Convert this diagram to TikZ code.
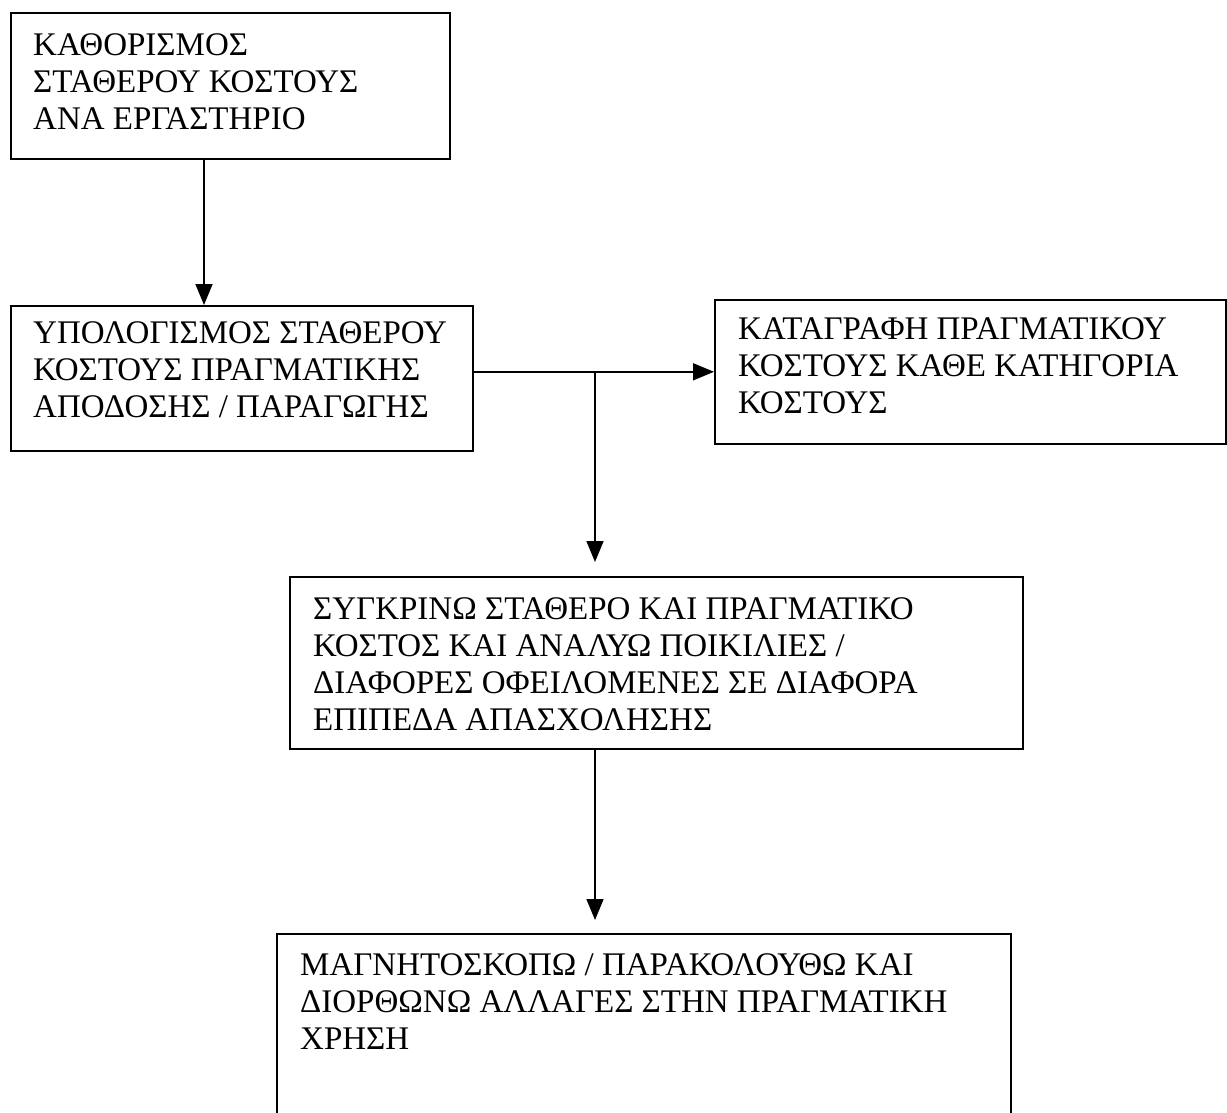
\documentclass[tikz,border=0pt]{standalone}
\usepackage{fontspec}
\setmainfont{Liberation Serif}
\usetikzlibrary{arrows.meta}
\tikzset{
  x=1pt, y=-1pt,
  boxframe/.style={draw=black, line width=1.6pt, rectangle, anchor=north west, inner sep=0pt},
  boxtext/.style={anchor=north west, align=left, inner sep=0pt, font=\fontsize{33}{37}\selectfont},
  arr/.style={line width=1.6pt, -{Triangle[length=21pt,width=17pt]}},
  link/.style={line width=1.6pt}
}
\begin{document}
\begin{tikzpicture}
\useasboundingbox[fill=white] (0,0) rectangle (1227,1112);
\begin{scope}
\clip (0,0) rectangle (1227,1112);
\node[boxframe, minimum width=439pt, minimum height=146pt] (b1) at (10,12) {};
\node[boxframe, minimum width=462pt, minimum height=145pt] (b2) at (10,305) {};
\node[boxframe, minimum width=511pt, minimum height=144pt] (b3) at (714,299) {};
\node[boxframe, minimum width=733pt, minimum height=172pt] (b4) at (289,576) {};
\node[boxframe, minimum width=734pt, minimum height=220pt] (b5) at (276,933) {};

\node[boxtext] (t1) at (33,33) {ΚΑΘΟΡΙΣΜΟΣ\\ΣΤΑΘΕΡΟΥ ΚΟΣΤΟΥΣ\\ΑΝΑ ΕΡΓΑΣΤΗΡΙΟ};
\node[boxtext] (t2) at (33,321) {ΥΠΟΛΟΓΙΣΜΟΣ ΣΤΑΘΕΡΟΥ\\ΚΟΣΤΟΥΣ ΠΡΑΓΜΑΤΙΚΗΣ\\ΑΠΟΔΟΣΗΣ / ΠΑΡΑΓΩΓΗΣ};
\node[boxtext] (t3) at (738,317) {ΚΑΤΑΓΡΑΦΗ ΠΡΑΓΜΑΤΙΚΟΥ\\ΚΟΣΤΟΥΣ ΚΑΘΕ ΚΑΤΗΓΟΡΙΑ\\ΚΟΣΤΟΥΣ};
\node[boxtext] (t4) at (313,597) {ΣΥΓΚΡΙΝΩ ΣΤΑΘΕΡΟ ΚΑΙ ΠΡΑΓΜΑΤΙΚΟ\\ΚΟΣΤΟΣ ΚΑΙ ΑΝΑΛΥΩ ΠΟΙΚΙΛΙΕΣ /\\ΔΙΑΦΟΡΕΣ ΟΦΕΙΛΟΜΕΝΕΣ ΣΕ ΔΙΑΦΟΡΑ\\ΕΠΙΠΕΔΑ ΑΠΑΣΧΟΛΗΣΗΣ};
\node[boxtext] (t5) at (300,953) {ΜΑΓΝΗΤΟΣΚΟΠΩ / ΠΑΡΑΚΟΛΟΥΘΩ ΚΑΙ\\ΔΙΟΡΘΩΝΩ ΑΛΛΑΓΕΣ ΣΤΗΝ ΠΡΑΓΜΑΤΙΚΗ\\ΧΡΗΣΗ};

\coordinate (a1) at ([xshift=194pt]b1.south west);
\coordinate (j) at (595,371);
\draw[arr] (a1) -- (a1 |- b2.north);
\draw[arr] (b3.west -| b2.east) -- (b3.west);
\draw[arr] (j) -- ([yshift=14pt]b4.north -| j);
\draw[arr] (b4.south -| j) -- ([yshift=13pt]b5.north -| j);
\end{scope}
\end{tikzpicture}
\end{document}
